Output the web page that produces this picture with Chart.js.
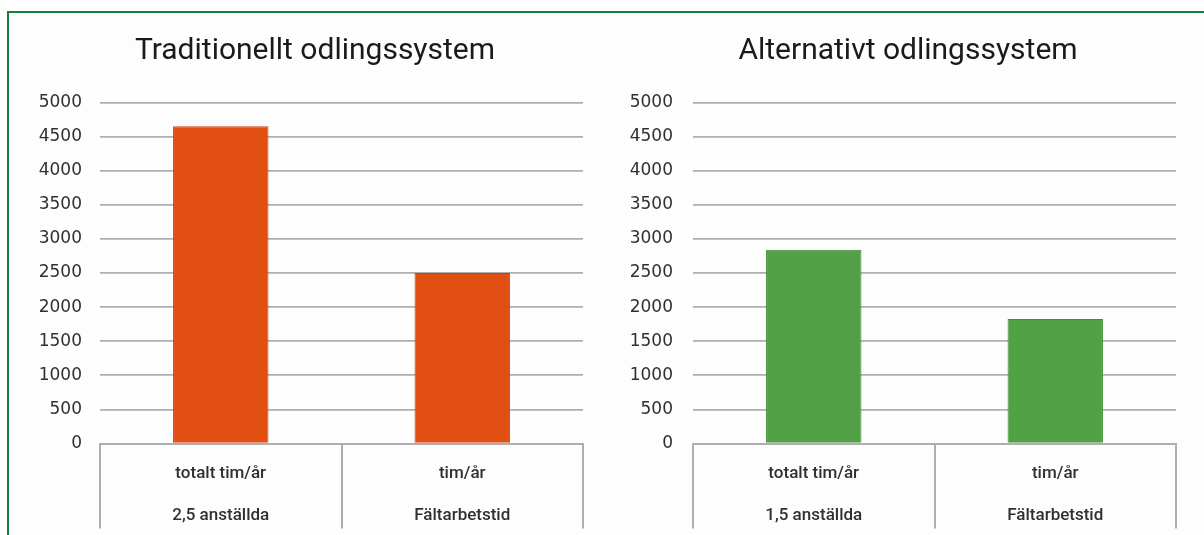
<!DOCTYPE html>
<html lang="sv">
<head>
<meta charset="utf-8">
<title>Arbetstid per odlingssystem</title>
<script src="https://cdn.jsdelivr.net/npm/chart.js@4.4.1/dist/chart.umd.min.js"></script>
<style>
  html, body { margin: 0; padding: 0; background: #ffffff; }
  body { width: 1204px; height: 535px; position: relative; overflow: hidden; }
  .frame {
    position: absolute; left: 7px; top: 11px; width: 1210px; height: 540px;
    border-top: 2px solid #15803b; border-left: 2px solid #15803b;
    background: #fdfdfd; box-sizing: border-box;
  }
  .panel { position: absolute; top: 0; height: 535px; }
  #left { left: 0; width: 600px; }
  #right { left: 600px; width: 604px; }
</style>
</head>
<body>
<div class="frame"></div>
<div class="panel" id="left"><canvas id="chartTraditional" width="600" height="535"></canvas></div>
<div class="panel" id="right"><canvas id="chartAlternative" width="604" height="535"></canvas></div>
<script>
// Hours per year for the two cultivation systems
const traditionalTitle = 'Traditionellt odlingssystem';
const alternativeTitle = 'Alternativt odlingssystem';
const traditionalCategories = [['totalt tim/år', '2,5 anställda'], ['tim/år', 'Fältarbetstid']];
const alternativeCategories = [['totalt tim/år', '1,5 anställda'], ['tim/år', 'Fältarbetstid']];
const traditionalHours = [4650, 2500];
const alternativeHours = [2840, 1825];
const yMin = 0;
const yMax = 5000;
const yStep = 500;

const TEXT = '#303030';
const GRID = '#aeaeae';

// box: left padding, y-axis width, empty right gutter width, right padding
function makeChart(canvasId, title, categories, values, fill, edge, box, tickPad) {
  return new Chart(document.getElementById(canvasId), {
    type: 'bar',
    data: {
      labels: categories,
      datasets: [{
        data: values,
        backgroundColor: fill,
        borderColor: edge,
        borderWidth: 1,
        categoryPercentage: 1,
        barPercentage: 0.395
      }]
    },
    options: {
      responsive: false,
      animation: false,
      events: [],
      layout: { padding: { left: box.padLeft, right: box.padRight, top: 0, bottom: 0 } },
      plugins: {
        legend: { display: false },
        tooltip: { enabled: false },
        title: {
          display: true,
          text: title,
          color: '#1a1a1a',
          font: { family: 'Roboto', size: 30, weight: 'normal', lineHeight: 1.2 },
          padding: { top: 33, bottom: 33.5 }
        }
      },
      scales: {
        x: {
          offset: true,
          border: { display: true, color: GRID, width: 2 },
          grid: {
            offset: true,
            drawOnChartArea: false,
            drawTicks: true,
            tickLength: 85,
            color: GRID,
            lineWidth: 2
          },
          ticks: {
            color: TEXT,
            padding: 8.5 - 85,
            maxRotation: 0,
            autoSkip: false,
            font: { family: 'Roboto', size: 17, weight: 500, lineHeight: 2.5 }
          },
          afterFit(scale) { scale.height = 91.5; }
        },
        y: {
          min: yMin,
          max: yMax,
          border: { display: false },
          grid: { color: GRID, lineWidth: 1.7, drawTicks: false },
          ticks: {
            stepSize: yStep,
            color: TEXT,
            padding: tickPad,
            font: { family: 'DejaVu Sans', size: 17 },
            callback: (value) => String(value)
          },
          afterFit(scale) { scale.width = box.axisWidth; }
        },
        // empty gutter on the right of the plot
        gutter: {
          type: 'linear',
          position: 'right',
          border: { display: false },
          grid: { display: false, drawTicks: false },
          ticks: { display: false },
          afterFit(scale) { scale.width = box.gutter; }
        }
      }
    }
  });
}

makeChart('chartTraditional', traditionalTitle, traditionalCategories, traditionalHours,
  '#e24f12', '#c8400e', { padLeft: 30, axisWidth: 70, gutter: 17, padRight: 0 }, 18);
makeChart('chartAlternative', alternativeTitle, alternativeCategories, alternativeHours,
  '#53a146', '#418c37', { padLeft: 20, axisWidth: 73, gutter: 20, padRight: 8 }, 20);
</script>
</body>
</html>
